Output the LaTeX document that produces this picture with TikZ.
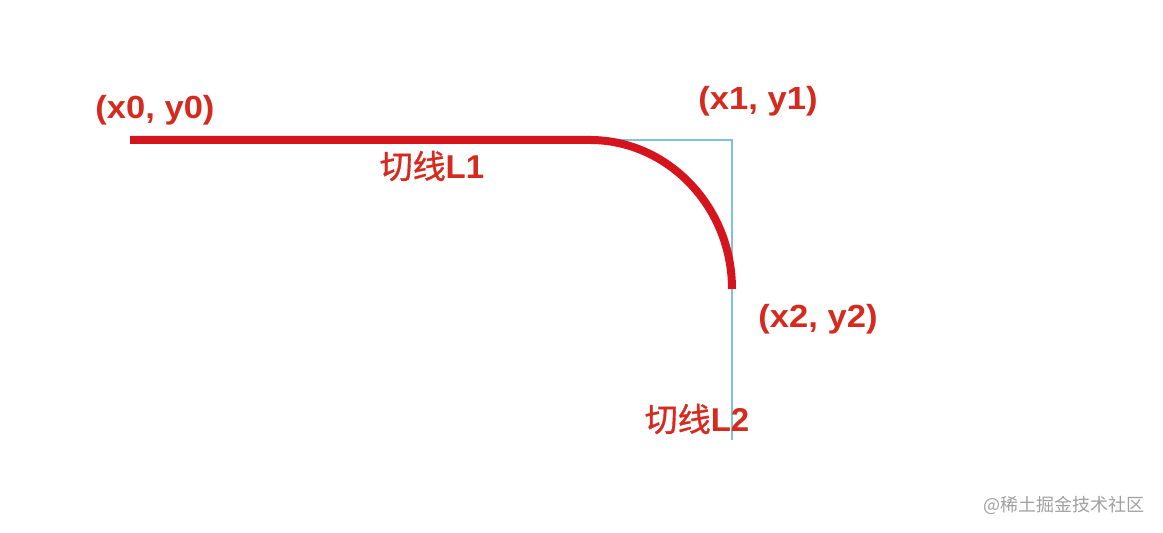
\documentclass[tikz,border=0pt]{standalone}
\usepackage{fontspec}
\setmainfont{Liberation Sans}
\newfontfamily\labfont[FakeStretch=1.08]{Liberation Sans}
\newfontfamily\cjk[FakeBold=1]{Noto Sans CJK SC}
\newfontfamily\markfont{Noto Sans CJK SC}
\definecolor{curvered}{RGB}{214,20,30}
\definecolor{labred}{RGB}{214,42,30}
\definecolor{tanblue}{RGB}{128,194,214}
\definecolor{markgray}{RGB}{160,160,160}
\tikzset{
	pointlabel/.style={text=labred,font=\labfont\bfseries\fontsize{16}{19}\selectfont,inner sep=0pt},
	tanlabel/.style={text=labred,font=\fontsize{16.5}{19}\selectfont,inner sep=0pt},
	tangent/.style={draw=tanblue,line width=1.2pt},
	curve/.style={draw=curvered,line width=4pt}
}
\begin{document}
\begin{tikzpicture}[x=0.5pt,y=-0.5pt]
	\useasboundingbox (0,0) rectangle (1163,533);
	\coordinate (p0) at (130,140);
	\coordinate (t1) at (590,140);
	\coordinate (p1) at (732,140);
	\coordinate (p2) at (732,289);
	\coordinate (end) at (732,440);
	% tangent lines
	\draw[tangent] (t1) -- (p1) -- (end);
	% rounded corner
	\draw[curve] (p0) -- (t1) .. controls (668,140) and (732,207) .. (p2);
	\node[pointlabel] (l0) at (155,110) {(x0, y0)};
	\node[pointlabel] (l1) at (758,101) {(x1, y1)};
	\node[pointlabel] (l2) at (818,319) {(x2, y2)};
	\node[tanlabel] (k1) at (432,166) {{\cjk 切线}\textbf{L1}};
	\node[tanlabel] (k2) at (697,419) {{\cjk 切线}\textbf{L2}};
	\node[text=markgray,font=\markfont\fontsize{9}{11}\selectfont,inner sep=0pt] (mark) at (1064,505) {@稀土掘金技术社区};
\end{tikzpicture}
\end{document}
